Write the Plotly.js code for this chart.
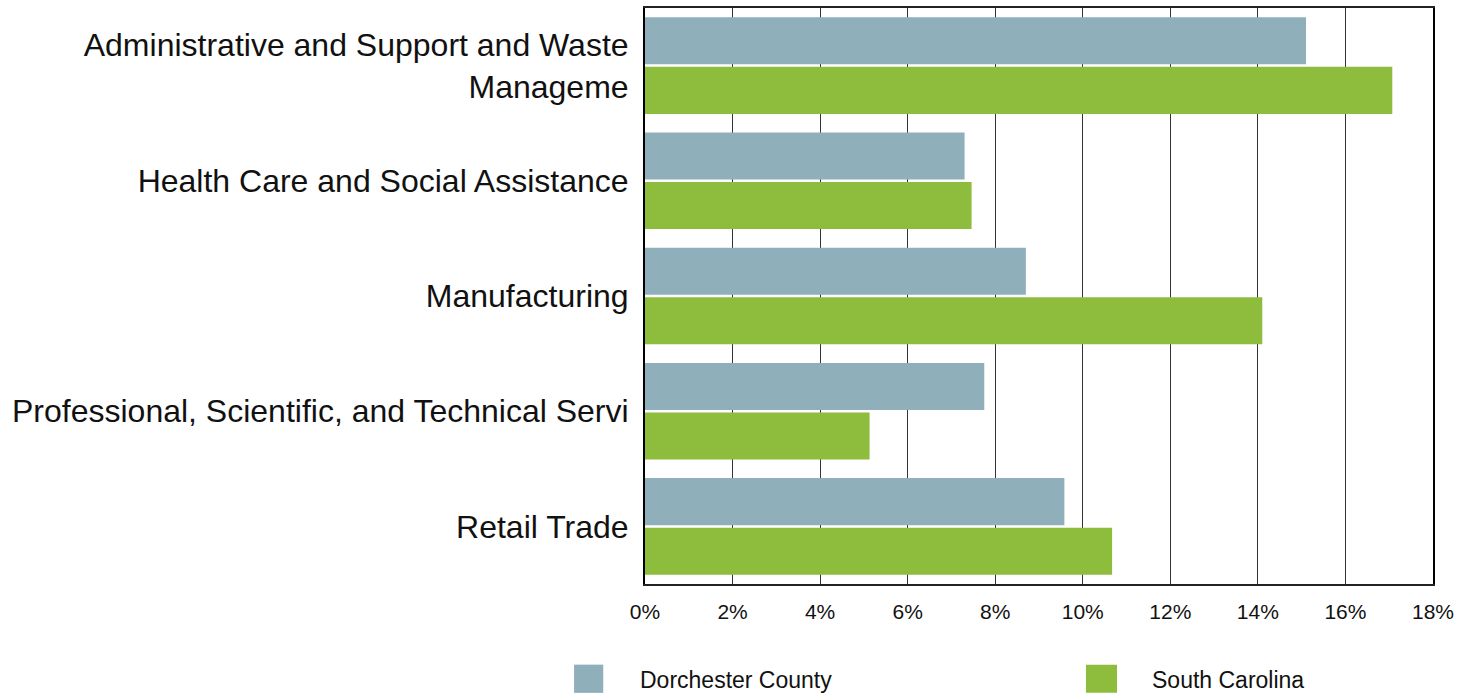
<!DOCTYPE html>
<html>
<head>
<meta charset="utf-8">
<script src="https://cdn.plot.ly/plotly-3.0.1.min.js"></script>
<style>html,body{margin:0;padding:0;background:#fff;}#chart{width:1471px;height:695px;}</style>
</head>
<body>
<div id="chart"></div>
<script>
const categories = [
  "Administrative and Support and Waste<br>Manageme",
  "Health Care and Social Assistance",
  "Manufacturing",
  "Professional, Scientific, and Technical Servi",
  "Retail Trade"
];
const seriesNames = ["Dorchester County", "South Carolina"];
const dorchester = [0.151, 0.073, 0.087, 0.0775, 0.0958];
const southCarolina = [0.1707, 0.0746, 0.141, 0.0513, 0.1067];
const tickValues = [0, 0.02, 0.04, 0.06, 0.08, 0.10, 0.12, 0.14, 0.16, 0.18];
const tickLabels = ["0%", "2%", "4%", "6%", "8%", "10%", "12%", "14%", "16%", "18%"];
const colors = ["#8FAFBA", "#8EBC3D"];

const font = "'Liberation Sans', Arial, sans-serif";

const traces = [dorchester, southCarolina].map((vals, i) => ({
  type: "bar",
  orientation: "h",
  name: seriesNames[i],
  y: categories,
  x: vals,
  marker: {color: colors[i], line: {width: 0}},
  hoverinfo: "x+y+name",
  showlegend: false
}));

// Custom legend (swatches + labels) below the plot
const legendPos = [{sx0: -0.090, sx1: -0.053, tx: -0.0089}, {sx0: 0.5596, sx1: 0.599, tx: 0.641}];
const shapes = legendPos.map((p, i) => ({
  type: "rect", xref: "paper", yref: "paper",
  x0: p.sx0, x1: p.sx1, y0: -0.189, y1: -0.140,
  fillcolor: colors[i], line: {width: 0}
}));
const annotations = legendPos.map((p, i) => ({
  xref: "paper", yref: "paper", x: p.tx, y: -0.167,
  xanchor: "left", yanchor: "middle", showarrow: false,
  text: seriesNames[i], font: {family: font, size: 23, color: "#111"}
}));

const layout = {
  width: 1471, height: 695,
  margin: {l: 645, r: 38, t: 8, b: 111, pad: 0},
  paper_bgcolor: "#fff", plot_bgcolor: "#fff",
  barmode: "group",
  bargap: 0.14,
  bargroupgap: 0.05,
  font: {family: font, color: "#111"},
  xaxis: {
    range: [0, 0.18],
    tickvals: tickValues,
    ticktext: tickLabels,
    tickfont: {family: font, size: 21, color: "#111"},
    showgrid: true, gridcolor: "#333", gridwidth: 1,
    showline: true, mirror: true, linecolor: "#222", linewidth: 1.5,
    zeroline: false,
    ticks: "", ticklabelstandoff: 8,
    fixedrange: true
  },
  yaxis: {
    autorange: "reversed",
    tickfont: {family: font, size: 32, color: "#111"},
    showgrid: false,
    showline: true, mirror: true, linecolor: "#000", linewidth: 2,
    ticks: "", ticklabelstandoff: 8,
    fixedrange: true
  },
  shapes: shapes,
  annotations: annotations
};

Plotly.newPlot("chart", traces, layout, {displayModeBar: false});
</script>
</body>
</html>
